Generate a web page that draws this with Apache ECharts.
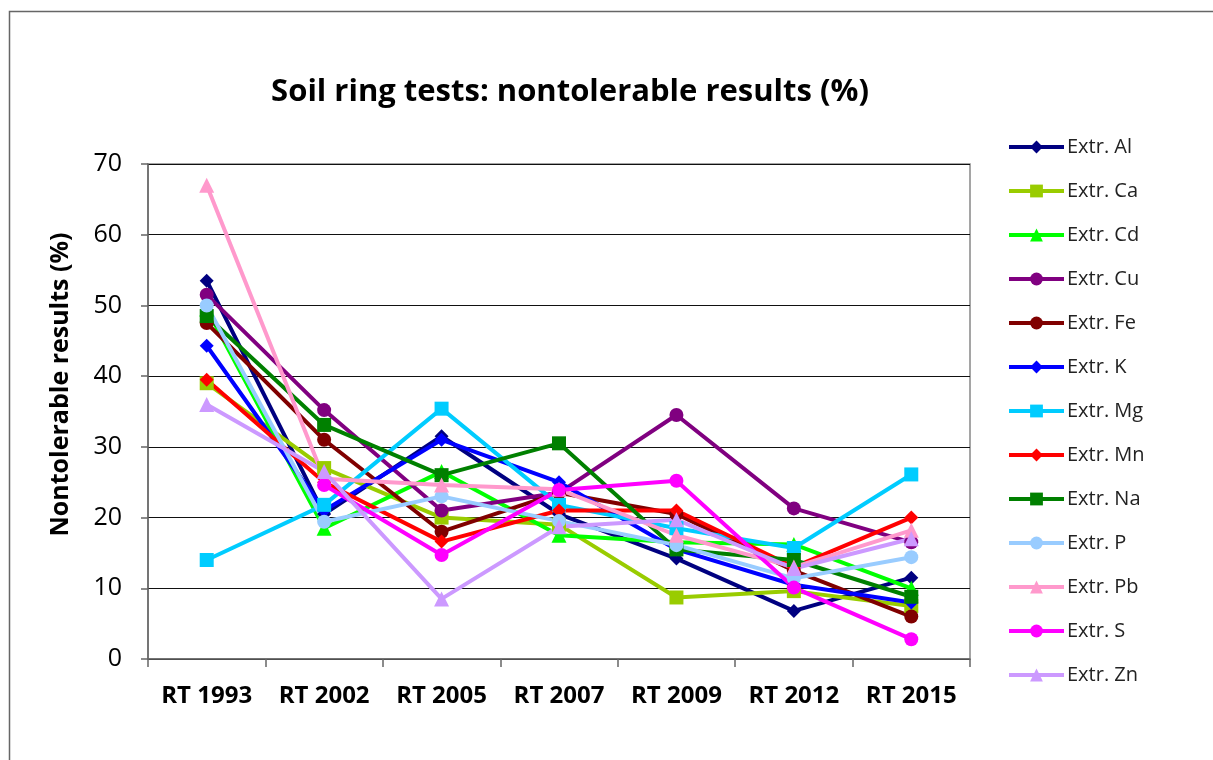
<!DOCTYPE html>
<html>
<head>
<meta charset="utf-8">
<script src="https://cdn.jsdelivr.net/npm/echarts@6/dist/echarts.min.js"></script>
<style>
  html, body { margin: 0; padding: 0; background: #fff; }
  #chart { width: 1213px; height: 760px; }
</style>
</head>
<body>
<div id="chart"></div>
<script>
const categories = ['RT 1993', 'RT 2002', 'RT 2005', 'RT 2007', 'RT 2009', 'RT 2012', 'RT 2015']

const extrAl = [53.5, 20.5, 31.5, 20.5, 14.2, 6.8, 11.5]
const extrCa = [39, 27, 20, 19, 8.7, 9.6, 7.5]
const extrCd = [49.5, 18.5, 26.5, 17.5, 16.5, 16.2, 10]
const extrCu = [51.5, 35.2, 21, 23.5, 34.5, 21.3, 16.5]
const extrFe = [47.5, 31, 18, 23.5, 20.5, 12.5, 6]
const extrK = [44.3, 21, 31, 25, 15.5, 10.5, 8]
const extrMg = [14, 21.8, 35.4, 21.8, 18.5, 15.7, 26.1]
const extrMn = [39.5, 25, 16.6, 21, 21, 13, 20]
const extrNa = [48.5, 33.1, 26, 30.5, 15.5, 14, 8.8]
const extrP = [50, 19.4, 23, 19.5, 16.1, 11.4, 14.4]
const extrPb = [67, 25.5, 24.6, 24, 17.5, 13, 18.2]
const extrS = [null, 24.6, 14.7, 23.9, 25.2, 10.1, 2.8]
const extrZn = [36, 26.5, 8.5, 18.7, 19.7, 12.8, 17]

const yTicks = [0, 10, 20, 30, 40, 50, 60, 70]

const seriesDefs = [
  ['Extr. Al', extrAl, '#000080', 'diamond'],
  ['Extr. Ca', extrCa, '#99CC00', 'rect'],
  ['Extr. Cd', extrCd, '#00FF00', 'triangle'],
  ['Extr. Cu', extrCu, '#800080', 'circle'],
  ['Extr. Fe', extrFe, '#800000', 'circle'],
  ['Extr. K', extrK, '#0000FF', 'diamond'],
  ['Extr. Mg', extrMg, '#00CCFF', 'rect'],
  ['Extr. Mn', extrMn, '#FF0000', 'diamond'],
  ['Extr. Na', extrNa, '#008000', 'rect'],
  ['Extr. P', extrP, '#99CCFF', 'circle'],
  ['Extr. Pb', extrPb, '#FF99CC', 'triangle'],
  ['Extr. S', extrS, '#FF00FF', 'circle'],
  ['Extr. Zn', extrZn, '#CC99FF', 'triangle']
]

const font = '"Open Sans", sans-serif'

const chart = echarts.init(document.getElementById('chart'))
chart.setOption({
  animation: false,
  textStyle: { fontFamily: font },
  graphic: [{
    type: 'rect',
    shape: { x: 9.5, y: 11.5, width: 1220, height: 800 },
    style: { fill: 'none', stroke: '#666', lineWidth: 1.5 },
    z: -10
  }],
  title: {
    text: 'Soil ring tests: nontolerable results (%)',
    left: 565,
    textAlign: 'center',
    top: 72,
    textStyle: { fontFamily: font, fontSize: 31, fontWeight: 'bold', color: '#000' }
  },
  legend: {
    orient: 'vertical',
    left: 1002,
    top: 132,
    itemWidth: 55,
    itemHeight: 16,
    itemGap: 24,
    lineStyle: { width: 4 },
    textStyle: { fontFamily: font, fontSize: 20, color: '#222', padding: [0, 0, 0, -2] },
    data: seriesDefs.map(d => d[0])
  },
  grid: {
    left: 148, top: 164, right: 243, bottom: 101,
    show: true, borderColor: '#888', borderWidth: 1.5,
    containLabel: false
  },
  xAxis: {
    type: 'category',
    data: categories,
    boundaryGap: true,
    axisLine: { lineStyle: { color: '#666', width: 1.5 } },
    axisTick: { show: true, length: 8, lineStyle: { color: '#666', width: 1.5 } },
    axisLabel: { interval: 0, color: '#000', fontSize: 24, fontWeight: 'bold', margin: 25, fontFamily: font }
  },
  yAxis: {
    type: 'value',
    min: yTicks[0],
    max: yTicks[yTicks.length - 1],
    interval: 10,
    name: 'Nontolerable results (%)',
    nameLocation: 'middle',
    nameGap: 75,
    nameTextStyle: { color: '#000', fontSize: 25, fontWeight: 'bold', fontFamily: font, padding: [0, 0, 0, 54] },
    axisLine: { show: true, lineStyle: { color: '#666', width: 1.5 } },
    axisTick: { show: true, length: 7, lineStyle: { color: '#666', width: 1.5 } },
    axisLabel: { color: '#000', fontSize: 25, margin: 26, fontFamily: font },
    splitLine: { lineStyle: { color: '#111', width: 1.2 } }
  },
  series: seriesDefs.map(([name, data, color, symbol]) => ({
    name,
    type: 'line',
    data,
    symbol,
    symbolSize: symbol === 'triangle' ? 15 : 14,
    showSymbol: true,
    connectNulls: false,
    itemStyle: { color },
    lineStyle: { color, width: 4 }
  }))
})
</script>
</body>
</html>
